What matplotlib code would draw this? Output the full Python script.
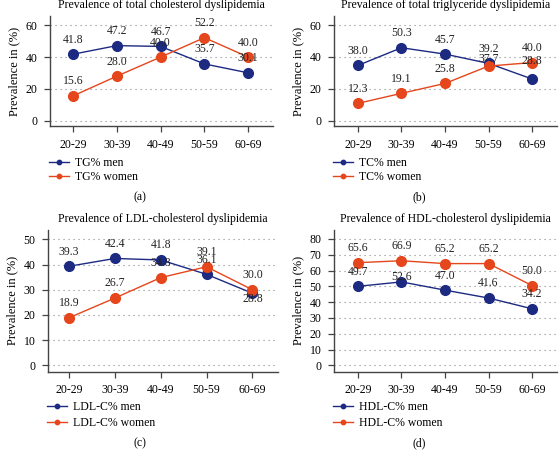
import numpy as np
import matplotlib
matplotlib.use("Agg")
import matplotlib.pyplot as plt

plt.rcParams['font.family'] = ['Liberation Serif', 'DejaVu Serif']

# age groups on the x axis
ages = ['20-29', '30-39', '40-49', '50-59', '60-69']

# (a) total cholesterol
tc_men = [41.8, 47.2, 46.7, 35.7, 30.1]
tc_women = [15.6, 28.0, 40.0, 52.2, 40.0]
tc_men_lab = ['41.8', '47.2', '46.7', '35.7', '30.1']
tc_women_lab = ['15.6', '28.0', '40.0', '52.2', '40.0']

# (b) triglycerides (points as drawn, labels as printed)
tg_men = [34.7, 45.8, 41.8, 36.0, 26.2]
tg_women = [10.9, 17.2, 23.4, 34.3, 36.5]
tg_men_lab = ['38.0', '50.3', '45.7', '39.2', '28.8']
tg_women_lab = ['12.3', '19.1', '25.8', '37.7', '40.0']

# (c) LDL
ldl_men = [39.3, 42.4, 41.8, 36.1, 28.6]
ldl_women = [18.9, 26.7, 34.8, 39.1, 30.0]
ldl_men_lab = ['39.3', '42.4', '41.8', '36.1', '28.8']
ldl_women_lab = ['18.9', '26.7', '34.8', '39.1', '30.0']

# (d) HDL
hdl_men = [50.0, 52.8, 47.6, 42.6, 35.8]
hdl_women = [65.0, 66.2, 64.4, 64.4, 50.5]
hdl_men_lab = ['49.7', '52.6', '47.0', '41.6', '34.2']
hdl_women_lab = ['65.6', '66.9', '65.2', '65.2', '50.0']

men_col = '#1c2a82'
women_col = '#e5461c'
fs = 8.5

fig = plt.figure(figsize=(5.6, 4.5), dpi=100)

panels = [
    # rect, title, men, women, men labels, women labels, legend names, ylim, ystep, label offsets (men, women), caption
    ([0.0893, 0.72, 0.3977, 0.2444], 'Prevalence of total cholesterol dyslipidemia',
     tc_men, tc_women, tc_men_lab, tc_women_lab, ('TG% men', 'TG% women'),
     (-3.3, 65.8), 20, ([10.5] * 5, [10.5] * 5), '(a)', (-0.525, 4.56)),
    ([0.5964, 0.72, 0.398, 0.2444], 'Prevalence of total triglyceride dyslipidemia',
     tg_men, tg_women, tg_men_lab, tg_women_lab, ('TC% men', 'TC% women'),
     (-3.3, 65.7), 20, ([10.5, 10.5, 10.5, 10.5, 13], [10.5, 10.5, 10.5, 5, 10.5]), '(b)', (-0.55, 4.57)),
    ([0.0857, 0.174, 0.41, 0.315], 'Prevalence of LDL-cholesterol dyslipidemia',
     ldl_men, ldl_women, ldl_men_lab, ldl_women_lab, ('LDL-C% men', 'LDL-C% women'),
     (-2.5, 53.7), 10, ([10.5, 10.5, 10.5, 10.5, -4], [10.5] * 5), '(c)', (-0.46, 4.55)),
    ([0.5964, 0.174, 0.398, 0.315], 'Prevalence of HDL-cholesterol dyslipidemia',
     hdl_men, hdl_women, hdl_men_lab, hdl_women_lab, ('HDL-C% men', 'HDL-C% women'),
     (-4.05, 85.7), 10, ([10.5, 3.5, 10.5, 10.5, 10.5], [10.5] * 5), '(d)', (-0.55, 4.57)),
]

x = np.arange(len(ages))

for rect, title, men, women, mlab, wlab, names, ylim, ystep, offs, cap, xlim in panels:
    ax = fig.add_axes(rect)
    l1, = ax.plot(x, men, color=men_col, lw=1.0, marker='o', ms=7, zorder=3)
    l2, = ax.plot(x, women, color=women_col, lw=1.0, marker='o', ms=7, zorder=3)
    for i in range(len(x)):
        ax.annotate(mlab[i], (x[i], men[i]), xytext=(0, offs[0][i]), textcoords='offset points',
                    ha='center', va='center', fontsize=fs, color='#222222', zorder=4)
        ax.annotate(wlab[i], (x[i], women[i]), xytext=(0, offs[1][i]), textcoords='offset points',
                    ha='center', va='center', fontsize=fs, color='#222222', zorder=4)
    ax.set_xlim(*xlim)
    ax.set_ylim(*ylim)
    ax.set_yticks(np.arange(0, ylim[1], ystep))
    ax.set_xticks(x)
    ax.set_xticklabels(ages)
    ax.yaxis.grid(True, linestyle=(0, (1, 3.5)), color='#888888', lw=0.8)
    ax.set_axisbelow(True)
    for s in ['top', 'right']:
        ax.spines[s].set_visible(False)
    for s in ['left', 'bottom']:
        ax.spines[s].set_color('#444444')
        ax.spines[s].set_linewidth(1.0)
    ax.tick_params(axis='both', labelsize=fs, length=4, width=0.9, color='#444444', pad=5)
    ax.set_ylabel('Prevalence in (%)', fontsize=fs + 0.5, labelpad=4)

    # title above, legend and caption below
    cx = rect[0] + rect[2] / 2
    fig.text(cx, rect[1] + rect[3] + 0.024, title, ha='center', va='center', fontsize=fs)
    top_row = rect[1] > 0.5
    leg_top = rect[1] - 0.069 if top_row else rect[1] - 0.066
    fig.legend([l1, l2], names, loc='upper left', bbox_to_anchor=(rect[0] - 0.002, leg_top),
               frameon=False, fontsize=fs, handlelength=1.7, markerscale=0.45,
               borderpad=0, borderaxespad=0, labelspacing=0.15 if top_row else 0.3,
               handletextpad=0.5)
    cap_x = 0.25 if rect[0] < 0.5 else 0.748
    cap_y = 0.562 if top_row else 0.016
    fig.text(cap_x, cap_y, cap, ha='center', va='center', fontsize=fs)

plt.savefig('out.png', dpi=100)
